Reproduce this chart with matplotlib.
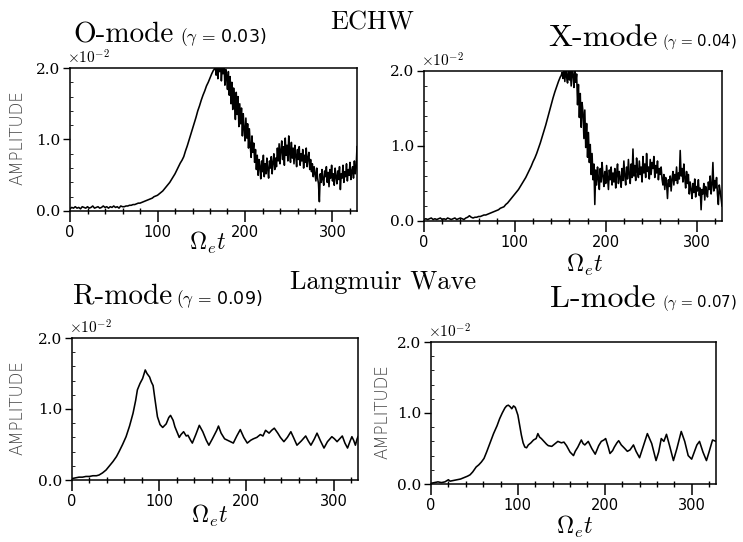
import numpy as np
import matplotlib
matplotlib.use('Agg')
import matplotlib.pyplot as plt
from matplotlib.ticker import MultipleLocator, FixedLocator

plt.rcParams['mathtext.fontset'] = 'cm'

# ---------------- data (amplitude in units of 1e-2) ----------------
# O-mode: t = 0..164 every 2, then 165..328 every 1
o_mode_t = list(range(0, 165, 2)) + list(range(165, 329))
o_mode_amp = [
    0.03, 0.05, 0.04, 0.06, 0.04, 0.05, 0.03, 0.06, 0.05, 0.04,
    0.06, 0.04, 0.05, 0.07, 0.04, 0.05, 0.06, 0.04, 0.05, 0.07,
    0.05, 0.06, 0.04, 0.06, 0.05, 0.07, 0.05, 0.06, 0.04, 0.07,
    0.06, 0.06, 0.07, 0.07, 0.08, 0.08, 0.09, 0.09, 0.10, 0.11,
    0.11, 0.12, 0.13, 0.14, 0.15, 0.16, 0.17, 0.18, 0.20, 0.21,
    0.22, 0.24, 0.26, 0.28, 0.31, 0.34, 0.37, 0.40, 0.44, 0.48,
    0.52, 0.57, 0.62, 0.67, 0.71, 0.76, 0.84, 0.91, 0.99, 1.07,
    1.15, 1.23, 1.31, 1.40, 1.47, 1.55, 1.62, 1.68, 1.75, 1.80,
    1.86, 1.92, 1.97,
    1.98, 2.06, 1.90, 2.10, 1.85, 2.04, 1.95, 2.08, 1.82, 2.02,
    1.92, 2.07, 1.76, 1.98, 1.86, 1.70, 1.95, 1.62, 1.88, 1.50,
    1.80, 1.42, 1.72, 1.55, 1.28, 1.66, 1.35, 1.60, 1.18, 1.50,
    1.22, 1.44, 1.05, 1.36, 1.15, 0.98, 1.30, 1.02, 1.22, 0.88,
    1.15, 0.92, 0.75, 1.05, 0.82, 0.95, 0.68, 0.86, 0.58, 0.78,
    0.50, 0.72, 0.62, 0.45, 0.70, 0.55, 0.78, 0.48, 0.66, 0.52,
    0.74, 0.58, 0.46, 0.70, 0.60, 0.76, 0.52, 0.68, 0.80, 0.58,
    0.74, 0.62, 0.88, 0.70, 0.94, 0.66, 0.85, 0.98, 0.72, 0.90,
    0.64, 1.02, 0.78, 0.92, 0.70, 1.05, 0.82, 0.68, 0.96, 0.74,
    0.88, 0.66, 0.92, 0.78, 0.62, 0.86, 0.72, 0.90, 0.64, 0.80,
    0.70, 0.86, 0.60, 0.78, 0.68, 0.88, 0.62, 0.74, 0.82, 0.58,
    0.72, 0.55, 0.66, 0.48, 0.62, 0.52, 0.42, 0.60, 0.46, 0.38,
    0.13, 0.52, 0.40, 0.58, 0.44, 0.36, 0.56, 0.48, 0.62, 0.40,
    0.54, 0.34, 0.58, 0.46, 0.64, 0.42, 0.52, 0.36, 0.60, 0.48,
    0.38, 0.56, 0.44, 0.62, 0.30, 0.52, 0.46, 0.64, 0.40, 0.55,
    0.48, 0.66, 0.42, 0.58, 0.50, 0.68, 0.44, 0.56, 0.62, 0.46,
    0.70, 0.52, 0.60, 0.90,
]

# X-mode: t = 0..150 every 2, then 151..328 every 1
x_mode_t = list(range(0, 151, 2)) + list(range(151, 329))
x_mode_amp = [
    0.02, 0.03, 0.02, 0.03, 0.04, 0.02, 0.03, 0.02, 0.03, 0.04,
    0.02, 0.03, 0.02, 0.04, 0.03, 0.02, 0.03, 0.04, 0.02, 0.03,
    0.04, 0.03, 0.02, 0.04, 0.05,
    0.07, 0.05, 0.04, 0.05, 0.05, 0.06, 0.06, 0.07, 0.08, 0.08,
    0.09, 0.10, 0.11, 0.12, 0.13, 0.14, 0.15, 0.17, 0.18, 0.19,
    0.22, 0.24, 0.27, 0.30, 0.33,
    0.36, 0.39, 0.42, 0.46, 0.50, 0.54, 0.58, 0.63, 0.68, 0.73,
    0.79, 0.84, 0.90, 0.97, 1.04, 1.12, 1.20, 1.28, 1.37, 1.46,
    1.55, 1.64, 1.72, 1.79, 1.86, 1.92,
    1.94, 1.98, 1.90, 2.04, 1.86, 2.06, 1.92, 1.84, 2.08, 1.88,
    2.02, 1.80, 2.06, 1.95, 1.78, 2.04, 1.85, 1.96, 1.55, 1.82,
    1.38, 1.70, 1.25, 1.58, 1.45, 1.10, 1.48, 0.98, 1.30, 0.85,
    1.18, 0.78, 1.02, 0.62, 0.90, 0.55, 0.76, 0.22, 0.68, 0.48,
    0.72, 0.56, 0.42, 0.70, 0.52, 0.78, 0.60, 0.46, 0.66, 0.50,
    0.74, 0.58, 0.42, 0.68, 0.55, 0.72, 0.48, 0.64, 0.52, 0.70,
    0.44, 0.62, 0.76, 0.50, 0.66, 0.58, 0.45, 0.70, 0.54, 0.80,
    0.60, 0.48, 0.72, 0.56, 0.82, 0.62, 0.50, 0.76, 0.58, 0.96,
    0.60, 0.74, 0.54, 0.84, 0.66, 0.58, 0.80, 0.62, 0.72, 0.52,
    0.86, 0.64, 0.76, 0.58, 0.90, 0.66, 0.72, 0.56, 0.82, 0.62,
    0.78, 0.70, 0.86, 0.58, 0.74, 0.64, 0.80, 0.55, 0.70, 0.62,
    0.72, 0.56, 0.48, 0.62, 0.42, 0.58, 0.50, 0.30, 0.55, 0.46,
    0.60, 0.40, 0.56, 0.66, 0.48, 0.62, 0.54, 0.72, 0.50, 0.64,
    0.56, 0.94, 0.60, 0.70, 0.52, 0.76, 0.58, 0.44, 0.66, 0.50,
    0.62, 0.36, 0.52, 0.42, 0.30, 0.50, 0.38, 0.56, 0.32, 0.46,
    0.40, 0.55, 0.34, 0.44, 0.15, 0.42, 0.36, 0.50, 0.28, 0.46,
    0.38, 0.32, 0.52, 0.42, 0.60, 0.36, 0.48, 0.78, 0.40, 0.54,
    0.44, 0.58, 0.36, 0.22, 0.48, 0.40, 0.30, 0.20,
]

r_mode_t = [0, 4, 8, 12, 16, 20, 24, 28, 31, 35, 39, 43, 47, 51, 54, 58, 62, 66,
            70, 73, 75, 78, 81, 84, 86, 89, 91, 93, 95, 98, 101, 104, 108, 111,
            113, 116, 118, 121, 123, 125, 128, 131, 133, 136, 138, 142, 146, 150,
            154, 157, 161, 166, 168, 171, 175, 180, 185, 189, 193, 197, 201, 205,
            208, 212, 216, 219, 222, 226, 229, 232, 236, 239, 243, 247, 251, 254,
            258, 263, 268, 271, 274, 278, 281, 285, 289, 293, 298, 301, 304, 307,
            310, 313, 316, 319, 321, 323, 325, 327, 328]
r_mode_amp = [0.02, 0.03, 0.04, 0.04, 0.05, 0.05, 0.06, 0.06, 0.07, 0.10, 0.14,
              0.20, 0.26, 0.33, 0.40, 0.50, 0.61, 0.76, 0.94, 1.12, 1.27, 1.36,
              1.43, 1.55, 1.50, 1.45, 1.38, 1.33, 1.15, 0.89, 0.78, 0.74, 0.79,
              0.88, 0.91, 0.84, 0.75, 0.66, 0.60, 0.64, 0.68, 0.62, 0.63, 0.56,
              0.52, 0.64, 0.77, 0.68, 0.56, 0.49, 0.58, 0.70, 0.76, 0.66, 0.58,
              0.55, 0.52, 0.62, 0.71, 0.60, 0.52, 0.56, 0.58, 0.60, 0.64, 0.62,
              0.70, 0.66, 0.70, 0.73, 0.66, 0.60, 0.54, 0.60, 0.68, 0.60, 0.49,
              0.55, 0.62, 0.55, 0.49, 0.58, 0.66, 0.55, 0.45, 0.54, 0.61, 0.58,
              0.54, 0.58, 0.62, 0.52, 0.45, 0.55, 0.61, 0.56, 0.49, 0.58, 0.61]

l_mode_t = [0, 4, 8, 12, 16, 20, 22, 26, 30, 34, 38, 42, 45, 48, 52, 55, 58, 61,
            64, 68, 72, 76, 79, 82, 85, 87, 89, 91, 93, 95, 97, 100, 102, 104,
            106, 108, 110, 112, 115, 118, 121, 123, 125, 127, 130, 133, 135, 139,
            142, 146, 150, 153, 156, 160, 164, 166, 169, 173, 175, 177, 181, 185,
            189, 193, 196, 199, 201, 204, 206, 209, 211, 214, 216, 219, 223, 226,
            229, 233, 236, 240, 244, 249, 254, 259, 262, 265, 268, 271, 275, 279,
            283, 288, 292, 296, 300, 303, 306, 309, 313, 317, 320, 324, 328]
l_mode_amp = [0.01, 0.02, 0.03, 0.02, 0.03, 0.06, 0.04, 0.05, 0.06, 0.07, 0.09,
              0.11, 0.13, 0.17, 0.24, 0.27, 0.31, 0.36, 0.45, 0.58, 0.71, 0.82,
              0.92, 1.00, 1.07, 1.10, 1.11, 1.09, 1.06, 1.10, 1.08, 0.97, 0.83,
              0.69, 0.58, 0.52, 0.51, 0.55, 0.58, 0.62, 0.64, 0.71, 0.66, 0.64,
              0.60, 0.56, 0.54, 0.53, 0.56, 0.60, 0.58, 0.59, 0.54, 0.45, 0.40,
              0.46, 0.52, 0.62, 0.57, 0.55, 0.60, 0.50, 0.42, 0.54, 0.60, 0.62,
              0.64, 0.52, 0.43, 0.47, 0.52, 0.58, 0.61, 0.55, 0.50, 0.46, 0.48,
              0.55, 0.46, 0.37, 0.52, 0.71, 0.57, 0.33, 0.45, 0.64, 0.60, 0.70,
              0.52, 0.33, 0.50, 0.74, 0.60, 0.40, 0.35, 0.45, 0.55, 0.60, 0.45,
              0.33, 0.45, 0.62, 0.60]

panel_titles = ['O-mode', 'X-mode', 'R-mode', 'L-mode']
panel_gammas = ['0.03', '0.04', '0.09', '0.07']
section_titles = ['ECHW', 'Langmuir Wave']
x_ticks = [0, 100, 200, 300]
y_ticks = [0.0, 1.0, 2.0]
y_label = 'AMPLITUDE'
x_label = r'$\Omega_e t$'
scale_label = r'$\times 10^{-2}$'

# ---------------- layout ----------------
W, H = 743, 542
fig = plt.figure(figsize=(W / 100, H / 100), dpi=100)


def rect(l, t, r, b):
    return [l / W, 1 - b / H, (r - l) / W, (b - t) / H]


def ftext(x, y, s, **kw):
    return fig.text(x / W, 1 - y / H, s, **kw)


rects = [rect(70, 68, 357, 211), rect(424, 71, 722, 221),
         rect(72, 338, 358, 480), rect(431, 342, 716, 484)]

series = [(o_mode_t, o_mode_amp), (x_mode_t, x_mode_amp),
          (r_mode_t, r_mode_amp), (l_mode_t, l_mode_amp)]

# (title x, title baseline, gamma x, gamma baseline, title size, gamma size)
title_pos = [(73, 42, 180, 42, 21, 12.5), (548, 46, 662, 46, 23, 10.8),
             (73, 304, 176, 304, 21, 12.5), (550, 307, 662, 307, 23, 10.8)]
xlabel_pos = [(208, 243), (585, 265), (210, 516), (575, 527)]
ylabel_pos = [(18, 138), None, (18, 408), (383, 412)]

for i, (ax_rect, (tt, vv)) in enumerate(zip(rects, series)):
    ax = fig.add_axes(ax_rect)
    ax.plot(tt, vv, color='black', lw=1.15)
    ax.set_xlim(0, 328)
    ax.set_ylim(0, 2.0)
    for sp in ax.spines.values():
        sp.set_linewidth(1.1)
    ax.xaxis.set_major_locator(FixedLocator(x_ticks))
    ax.xaxis.set_minor_locator(MultipleLocator(20))
    ax.yaxis.set_major_locator(FixedLocator(y_ticks))
    ax.yaxis.set_minor_locator(MultipleLocator(0.2))
    ax.set_xticklabels([str(v) for v in x_ticks], family='DejaVu Sans', fontsize=10.5)
    ax.set_yticklabels(['%.1f' % v for v in y_ticks], family='DejaVu Serif', fontsize=11)
    ax.tick_params(axis='x', which='major', direction='out', length=8, width=1.1, pad=2)
    ax.tick_params(axis='x', which='minor', direction='inout', length=5, width=1.0)
    ax.tick_params(axis='y', which='major', direction='out', length=5, width=1.0, pad=2)
    ax.tick_params(axis='y', which='minor', direction='in', length=2, width=0.6)
    ax.text(-0.01, 1.01, scale_label, transform=ax.transAxes, fontsize=11,
            ha='left', va='bottom')

    tx, ty, gx, gy, fs, gs = title_pos[i]
    ftext(tx, ty, panel_titles[i], family='cmr10', fontsize=fs, va='baseline', ha='left')
    ftext(gx, gy, r'$(\gamma\,=\,$' + panel_gammas[i] + ')', family='DejaVu Sans',
          fontsize=gs, va='baseline', ha='left')
    xl = xlabel_pos[i]
    ftext(xl[0], xl[1], x_label, fontsize=17, ha='center', va='center')
    if ylabel_pos[i] is not None:
        ftext(ylabel_pos[i][0], ylabel_pos[i][1], y_label, rotation=90,
              family='DejaVu Sans', fontweight='light', fontsize=12, color='#444444',
              ha='center', va='center')

ftext(372, 29, section_titles[0], family='cmr10', fontsize=19, ha='center', va='baseline')
ftext(383, 289, section_titles[1], family='cmr10', fontsize=19, ha='center', va='baseline')

fig.savefig('out.png', dpi=100)
